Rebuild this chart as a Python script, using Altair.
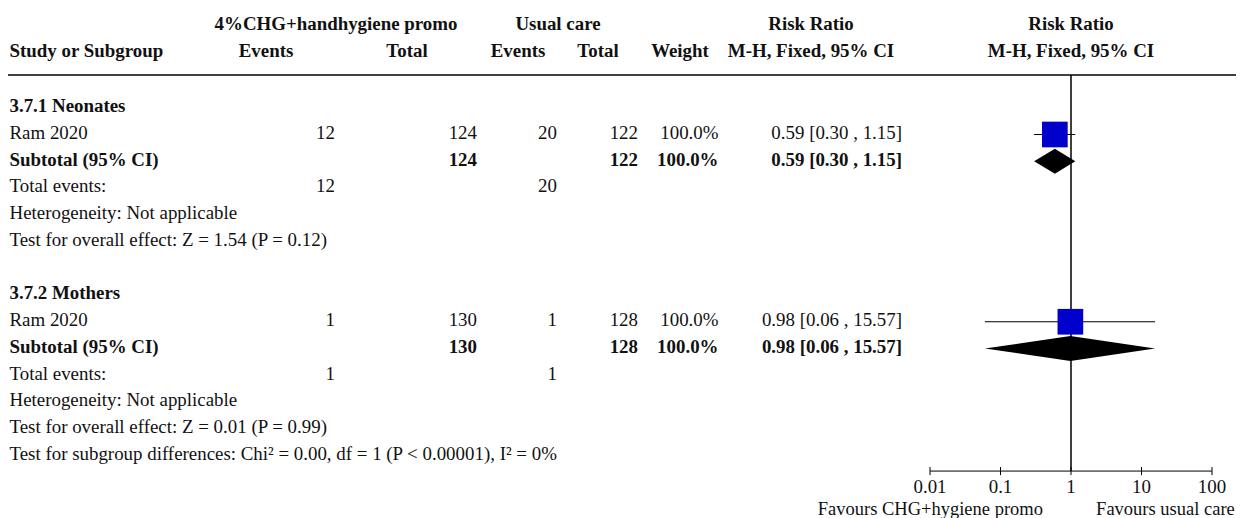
import altair as alt
import pandas as pd

# ---------------- data ----------------
subgroups = ["3.7.1 Neonates", "3.7.2 Mothers"]
studies = ["Ram 2020", "Ram 2020"]
chg_events = [12, 1]
chg_total = [124, 130]
uc_events = [20, 1]
uc_total = [122, 128]
weights = ["100.0%", "100.0%"]
rr = [0.59, 0.98]
rr_lo = [0.30, 0.06]
rr_hi = [1.15, 15.57]
heterogeneity = ["Heterogeneity: Not applicable", "Heterogeneity: Not applicable"]
overall_effect = ["Test for overall effect: Z = 1.54 (P = 0.12)",
                  "Test for overall effect: Z = 0.01 (P = 0.99)"]
subgroup_test = "Test for subgroup differences: Chi\u00b2 = 0.00, df = 1 (P < 0.00001), I\u00b2 = 0%"
axis_ticks = [0.01, 0.1, 1, 10, 100]
tick_labels = ["0.01", "0.1", "1", "10", "100"]
favours_left = "Favours CHG+hygiene promo"
favours_right = "Favours usual care"
header1 = ["4%CHG+handhygiene promo", "Usual care", "Risk Ratio", "Risk Ratio"]
header2 = ["Study or Subgroup", "Events", "Total", "Events", "Total", "Weight",
           "M-H, Fixed, 95% CI", "M-H, Fixed, 95% CI"]

# ---------------- layout (pixels / row units) ----------------
FONT = "Liberation Serif"
FS = 18.9
FS_FAV = 18.5
W, H = 1228, 510
X_STUDY, X_EV1, X_TOT1, X_EV2, X_TOT2, X_WT, X_CI = 1.5, 327, 469, 549, 630, 710.5, 894
H1_X = [328, 550, 803, 1063]
H2_X = [1.5, 258, 399, 510, 590, 672, 803, 1063]
ROW_PX0, ROW_STEP = 98.2, 26.75
y_scale = alt.Scale(domain=[0, 13], range=[ROW_PX0, ROW_PX0 + 13 * ROW_STEP])
x_scale = alt.Scale(type="log", domain=[0.01, 100], range=[922, 1204])
SYM = 0.058         # symbol offset from text anchor, rows
HDR_LINE = -1.166
AXIS_ROW = 13.64
TICK_HALF = 0.15
TICKLAB_ROW = 14.25
FAV_ROW = 15.04
DIAMOND_HALF = 0.467

# ---------------- text table ----------------
recs = []
def add(row, px, label, align="right", bold=False):
    recs.append(dict(row=row, px=px, label=str(label), align=align,
                     weight="bold" if bold else "normal"))

for i in range(4):
    add(-3.07, H1_X[i], header1[i], "center", True)
add(-2.07, H2_X[0], header2[0], "left", True)
for i in range(1, 8):
    add(-2.07, H2_X[i], header2[i], "center", True)

for g in range(len(subgroups)):
    b = g * 7
    ci = f"{rr[g]:.2f} [{rr_lo[g]:.2f} , {rr_hi[g]:.2f}]"
    add(b, X_STUDY, subgroups[g], "left", True)
    add(b + 1, X_STUDY, studies[g], "left")
    add(b + 1, X_EV1, chg_events[g]); add(b + 1, X_TOT1, chg_total[g])
    add(b + 1, X_EV2, uc_events[g]); add(b + 1, X_TOT2, uc_total[g])
    add(b + 1, X_WT, weights[g]); add(b + 1, X_CI, ci)
    add(b + 2, X_STUDY, "Subtotal (95% CI)", "left", True)
    add(b + 2, X_TOT1, chg_total[g], bold=True); add(b + 2, X_TOT2, uc_total[g], bold=True)
    add(b + 2, X_WT, weights[g], bold=True); add(b + 2, X_CI, ci, bold=True)
    add(b + 3, X_STUDY, "Total events:", "left")
    add(b + 3, X_EV1, chg_events[g]); add(b + 3, X_EV2, uc_events[g])
    add(b + 4, X_STUDY, heterogeneity[g], "left")
    add(b + 5, X_STUDY, overall_effect[g], "left")
add(13, X_STUDY, subgroup_test, "left")
text_df = pd.DataFrame(recs)

layers = []
for (px, al, wt), sub in text_df.groupby(["px", "align", "weight"]):
    layers.append(
        alt.Chart(sub[["row", "label"]]).mark_text(
            align=al, baseline="middle", font=FONT, fontSize=FS,
            fontWeight=wt, color="#111")
        .encode(x=alt.value(float(px)),
                y=alt.Y("row:Q", scale=y_scale, axis=None),
                text="label:N"))

# ---------------- forest ----------------
forest_df = pd.DataFrame(dict(row=[g * 7 + 1 + SYM for g in range(len(rr))],
                              rr=rr, lo=rr_lo, hi=rr_hi))
dia = []
for g in range(len(rr)):
    c = g * 7 + 2 + SYM
    dia += [dict(grp=g, x=rr_lo[g], top=c, bot=c),
            dict(grp=g, x=rr[g], top=c - DIAMOND_HALF, bot=c + DIAMOND_HALF),
            dict(grp=g, x=rr_hi[g], top=c, bot=c)]
dia_df = pd.DataFrame(dia)

ci_rule = alt.Chart(forest_df).mark_rule(color="black", strokeWidth=1).encode(
    x=alt.X("lo:Q", scale=x_scale, axis=None), x2="hi:Q",
    y=alt.Y("row:Q", scale=y_scale, axis=None))
squares = alt.Chart(forest_df).mark_square(size=660, color="#0000CC", opacity=1,
                                           filled=True).encode(
    x=alt.X("rr:Q", scale=x_scale, axis=None),
    y=alt.Y("row:Q", scale=y_scale, axis=None))
diamonds = alt.Chart(dia_df).mark_area(color="black", opacity=1).encode(
    x=alt.X("x:Q", scale=x_scale, axis=None),
    y=alt.Y("top:Q", scale=y_scale, axis=None), y2="bot:Q",
    detail="grp:N")

lines_df = pd.DataFrame(dict(v=[1], top=[HDR_LINE], bot=[AXIS_ROW]))
null_line = alt.Chart(lines_df).mark_rule(color="black", strokeWidth=1.5).encode(
    x=alt.X("v:Q", scale=x_scale, axis=None),
    y=alt.Y("top:Q", scale=y_scale, axis=None), y2="bot:Q")
hdr_line = alt.Chart(lines_df).mark_rule(color="black", strokeWidth=1.5).encode(
    x=alt.value(0), x2=alt.value(1232),
    y=alt.Y("top:Q", scale=y_scale, axis=None))

ticks_df = pd.DataFrame(dict(t=axis_ticks, lab=tick_labels,
                             t0=[AXIS_ROW - TICK_HALF] * len(axis_ticks),
                             t1=[AXIS_ROW + TICK_HALF] * len(axis_ticks),
                             ly=[TICKLAB_ROW] * len(axis_ticks)))
axis_df = pd.DataFrame(dict(a=[axis_ticks[0]], b=[axis_ticks[-1]], ax=[AXIS_ROW]))
axis_line = alt.Chart(axis_df).mark_rule(color="black", strokeWidth=1).encode(
    x=alt.X("a:Q", scale=x_scale, axis=None), x2="b:Q",
    y=alt.Y("ax:Q", scale=y_scale, axis=None))
tick_marks = alt.Chart(ticks_df).mark_rule(color="black", strokeWidth=1).encode(
    x=alt.X("t:Q", scale=x_scale, axis=None),
    y=alt.Y("t0:Q", scale=y_scale, axis=None), y2="t1:Q")
tick_text = alt.Chart(ticks_df).mark_text(font=FONT, fontSize=FS, baseline="middle",
                                          color="#111").encode(
    x=alt.X("t:Q", scale=x_scale, axis=None),
    y=alt.Y("ly:Q", scale=y_scale, axis=None), text="lab:N")
fav_df = pd.DataFrame(dict(x=[0.4, 2.27], lab=[favours_left, favours_right],
                           fy=[FAV_ROW, FAV_ROW]))
fav_l = alt.Chart(fav_df.iloc[[0]]).mark_text(font=FONT, fontSize=FS_FAV, align="right",
                                              baseline="middle", color="#111").encode(
    x=alt.X("x:Q", scale=x_scale, axis=None),
    y=alt.Y("fy:Q", scale=y_scale, axis=None), text="lab:N")
fav_r = alt.Chart(fav_df.iloc[[1]]).mark_text(font=FONT, fontSize=FS_FAV, align="left",
                                              baseline="middle", color="#111").encode(
    x=alt.X("x:Q", scale=x_scale, axis=None),
    y=alt.Y("fy:Q", scale=y_scale, axis=None), text="lab:N")

chart = alt.layer(
    hdr_line, null_line, axis_line, tick_marks, ci_rule, diamonds, squares,
    tick_text, fav_l, fav_r, *layers
).properties(width=W, height=H, padding=0, autosize="none").configure_view(stroke=None)

chart.save("out.html", embed_options={"renderer": "svg", "actions": False})
